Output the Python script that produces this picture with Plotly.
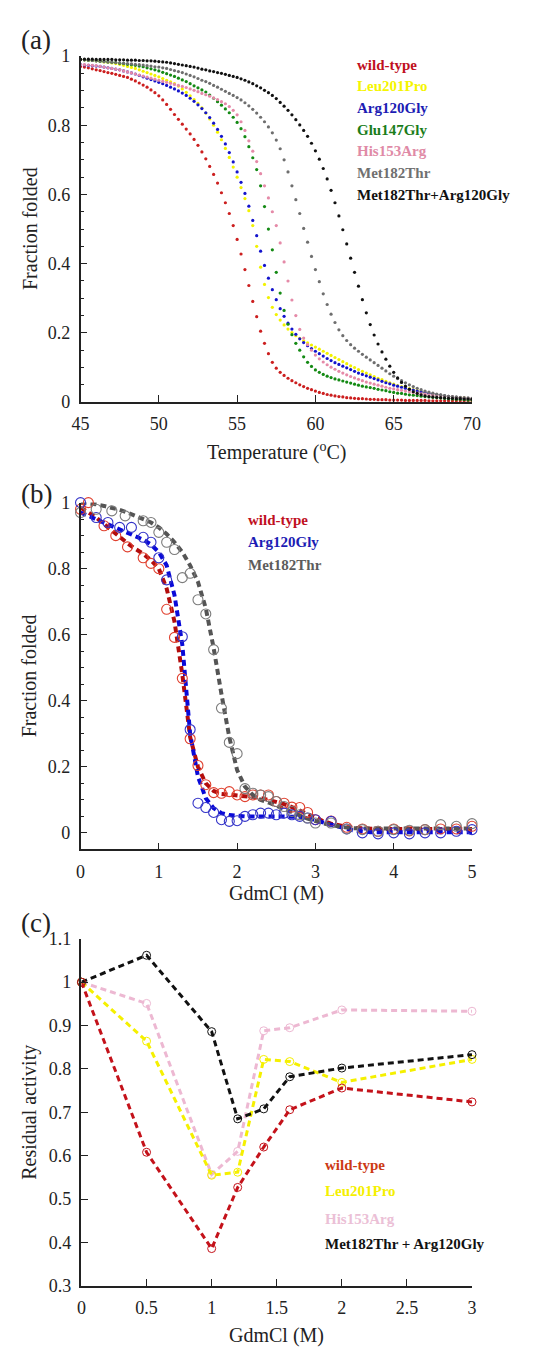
import numpy as np
import plotly.graph_objects as go

W, H = 539, 1355
FONT = "Liberation Serif, Times New Roman, Times, DejaVu Serif, serif"

# ---------------- Panel (a): thermal unfolding, 45..70 C every 0.25 C ----------------
temp = np.arange(45, 70.001, 0.25)

wild_type_a = [
    0.970, 0.968, 0.966, 0.963, 0.960, 0.958, 0.955, 0.952, 0.950, 0.947, 0.944, 0.941,
    0.938, 0.933, 0.928, 0.922, 0.916, 0.910, 0.902, 0.894, 0.885, 0.873, 0.860, 0.846,
    0.831, 0.817, 0.803, 0.789, 0.775, 0.759, 0.742, 0.723, 0.703, 0.681, 0.658, 0.633,
    0.605, 0.576, 0.545, 0.510, 0.470, 0.428, 0.383, 0.337, 0.291, 0.247, 0.205, 0.170,
    0.140, 0.115, 0.098, 0.086, 0.077, 0.069, 0.062, 0.056, 0.050, 0.045, 0.040, 0.036,
    0.032, 0.028, 0.025, 0.022, 0.020, 0.018, 0.016, 0.015, 0.013, 0.012, 0.011, 0.010,
    0.010, 0.009, 0.008, 0.008, 0.007, 0.007, 0.007, 0.006, 0.006, 0.006, 0.006, 0.005,
    0.005, 0.005, 0.005, 0.005, 0.005, 0.004, 0.004, 0.004, 0.004, 0.004, 0.004, 0.004,
    0.004, 0.004, 0.004, 0.004, 0.004]

leu201pro_a = [
    0.990, 0.989, 0.988, 0.987, 0.986, 0.985, 0.983, 0.982, 0.980, 0.978, 0.976, 0.973,
    0.970, 0.967, 0.964, 0.960, 0.956, 0.952, 0.948, 0.944, 0.940, 0.935, 0.930, 0.925,
    0.920, 0.913, 0.905, 0.895, 0.885, 0.874, 0.863, 0.850, 0.835, 0.818, 0.800, 0.780,
    0.758, 0.733, 0.707, 0.679, 0.650, 0.620, 0.588, 0.553, 0.510, 0.450, 0.390, 0.340,
    0.302, 0.274, 0.253, 0.237, 0.223, 0.211, 0.201, 0.192, 0.184, 0.177, 0.171, 0.165,
    0.159, 0.153, 0.147, 0.141, 0.135, 0.129, 0.123, 0.117, 0.111, 0.105, 0.100, 0.094,
    0.089, 0.084, 0.079, 0.074, 0.069, 0.065, 0.060, 0.056, 0.052, 0.048, 0.045, 0.042,
    0.039, 0.036, 0.033, 0.030, 0.028, 0.026, 0.024, 0.022, 0.020, 0.018, 0.017, 0.015,
    0.014, 0.013, 0.012, 0.010, 0.009]

arg120gly_a = [
    0.975, 0.974, 0.973, 0.972, 0.971, 0.970, 0.968, 0.966, 0.964, 0.962, 0.960, 0.957,
    0.954, 0.951, 0.948, 0.944, 0.940, 0.936, 0.932, 0.928, 0.924, 0.920, 0.915, 0.910,
    0.905, 0.899, 0.893, 0.886, 0.878, 0.869, 0.859, 0.848, 0.836, 0.822, 0.806, 0.788,
    0.768, 0.746, 0.721, 0.694, 0.665, 0.635, 0.603, 0.566, 0.525, 0.481, 0.436, 0.395,
    0.358, 0.325, 0.296, 0.270, 0.248, 0.228, 0.211, 0.196, 0.183, 0.172, 0.163, 0.155,
    0.147, 0.140, 0.133, 0.126, 0.120, 0.114, 0.109, 0.104, 0.099, 0.094, 0.089, 0.084,
    0.080, 0.076, 0.072, 0.068, 0.064, 0.060, 0.056, 0.053, 0.049, 0.046, 0.043, 0.040,
    0.037, 0.035, 0.032, 0.030, 0.028, 0.026, 0.024, 0.022, 0.020, 0.018, 0.017, 0.015,
    0.014, 0.012, 0.011, 0.010, 0.009]

glu147gly_a = [
    0.990, 0.989, 0.988, 0.987, 0.986, 0.985, 0.984, 0.983, 0.982, 0.981, 0.979, 0.978,
    0.976, 0.975, 0.973, 0.971, 0.969, 0.966, 0.963, 0.960, 0.957, 0.953, 0.949, 0.945,
    0.941, 0.936, 0.931, 0.926, 0.920, 0.914, 0.908, 0.902, 0.896, 0.887, 0.878, 0.868,
    0.858, 0.847, 0.836, 0.823, 0.808, 0.790, 0.767, 0.738, 0.706, 0.672, 0.625, 0.565,
    0.500, 0.440, 0.375, 0.315, 0.265, 0.225, 0.195, 0.170, 0.150, 0.131, 0.115, 0.103,
    0.093, 0.086, 0.080, 0.075, 0.071, 0.067, 0.064, 0.061, 0.058, 0.055, 0.052, 0.049,
    0.046, 0.044, 0.042, 0.040, 0.037, 0.035, 0.033, 0.030, 0.028, 0.026, 0.025, 0.023,
    0.021, 0.020, 0.019, 0.017, 0.016, 0.015, 0.014, 0.013, 0.012, 0.011, 0.010, 0.009,
    0.008, 0.008, 0.007, 0.006, 0.006]

his153arg_a = [
    0.975, 0.975, 0.974, 0.973, 0.972, 0.970, 0.968, 0.966, 0.964, 0.962, 0.960, 0.957,
    0.954, 0.951, 0.948, 0.945, 0.942, 0.939, 0.936, 0.933, 0.930, 0.927, 0.924, 0.921,
    0.918, 0.915, 0.912, 0.909, 0.905, 0.901, 0.897, 0.892, 0.888, 0.884, 0.879, 0.874,
    0.868, 0.862, 0.854, 0.843, 0.830, 0.810, 0.785, 0.755, 0.725, 0.695, 0.660, 0.625,
    0.590, 0.550, 0.510, 0.460, 0.405, 0.350, 0.295, 0.250, 0.210, 0.185, 0.166, 0.150,
    0.136, 0.125, 0.116, 0.108, 0.101, 0.095, 0.089, 0.084, 0.079, 0.074, 0.070, 0.066,
    0.062, 0.058, 0.055, 0.052, 0.049, 0.046, 0.043, 0.040, 0.038, 0.036, 0.034, 0.032,
    0.030, 0.028, 0.026, 0.024, 0.023, 0.021, 0.020, 0.019, 0.018, 0.017, 0.016, 0.015,
    0.014, 0.013, 0.012, 0.011, 0.010]

met182thr_a = [
    0.990, 0.989, 0.988, 0.987, 0.986, 0.985, 0.984, 0.983, 0.982, 0.981, 0.980, 0.979,
    0.978, 0.977, 0.976, 0.975, 0.974, 0.972, 0.971, 0.969, 0.968, 0.966, 0.964, 0.961,
    0.958, 0.955, 0.952, 0.948, 0.944, 0.940, 0.935, 0.930, 0.926, 0.921, 0.915, 0.910,
    0.904, 0.898, 0.892, 0.886, 0.880, 0.873, 0.865, 0.856, 0.846, 0.835, 0.823, 0.810,
    0.795, 0.778, 0.757, 0.732, 0.700, 0.665, 0.625, 0.585, 0.545, 0.502, 0.462, 0.421,
    0.383, 0.348, 0.313, 0.282, 0.254, 0.230, 0.209, 0.192, 0.178, 0.166, 0.156, 0.147,
    0.138, 0.130, 0.122, 0.114, 0.106, 0.098, 0.090, 0.082, 0.075, 0.068, 0.062, 0.056,
    0.050, 0.045, 0.040, 0.036, 0.032, 0.029, 0.026, 0.023, 0.021, 0.019, 0.017, 0.016,
    0.015, 0.014, 0.013, 0.012, 0.011]

double_mut_a = [
    0.990, 0.991, 0.991, 0.991, 0.990, 0.990, 0.990, 0.990, 0.990, 0.989, 0.989, 0.989,
    0.988, 0.988, 0.988, 0.987, 0.987, 0.986, 0.986, 0.985, 0.984, 0.983, 0.982, 0.980,
    0.978, 0.976, 0.974, 0.972, 0.970, 0.968, 0.965, 0.962, 0.960, 0.957, 0.955, 0.952,
    0.950, 0.947, 0.944, 0.941, 0.938, 0.934, 0.930, 0.925, 0.920, 0.914, 0.908, 0.901,
    0.894, 0.886, 0.877, 0.866, 0.855, 0.843, 0.830, 0.816, 0.801, 0.785, 0.768, 0.748,
    0.726, 0.702, 0.675, 0.645, 0.612, 0.576, 0.538, 0.498, 0.457, 0.416, 0.375, 0.335,
    0.296, 0.258, 0.224, 0.194, 0.168, 0.145, 0.124, 0.104, 0.086, 0.070, 0.057, 0.046,
    0.037, 0.030, 0.025, 0.021, 0.018, 0.016, 0.015, 0.014, 0.013, 0.012, 0.011, 0.011,
    0.010, 0.010, 0.009, 0.009, 0.008]

names_a = ["wild-type", "Leu201Pro", "Arg120Gly", "Glu147Gly", "His153Arg",
           "Met182Thr", "Met182Thr+Arg120Gly"]
series_a = [wild_type_a, leu201pro_a, arg120gly_a, glu147gly_a, his153arg_a,
            met182thr_a, double_mut_a]
dot_colors_a = ["#cc1f1f", "#f2f200", "#1414cc", "#148a14", "#e58aa8", "#6e6e6e", "#111111"]
text_colors_a = ["#c0101e", "#f5f500", "#1c1cb4", "#1a7d1a", "#e08aa6", "#707070", "#111111"]

# ---------------- Panel (b): GdmCl denaturation ----------------
wt_b_x = [0, 0.1, 0.3, 0.45, 0.6, 0.8, 0.9, 1.0,
          1.1, 1.2, 1.3, 1.4, 1.5, 1.6, 1.7, 1.8, 1.9, 2.0, 2.1, 2.2, 2.3, 2.4, 2.5, 2.6,
          2.7, 2.8, 2.9, 3.0, 3.2, 3.4, 3.6, 3.8, 4.0, 4.2, 4.4, 4.6, 4.8, 5.0]
wt_b_y = [0.98, 1.0, 0.93, 0.90, 0.866, 0.833, 0.816, 0.80,
          0.677, 0.592, 0.468, 0.285, 0.204, 0.146, 0.122, 0.12, 0.125, 0.115, 0.11, 0.115,
          0.115, 0.115, 0.095, 0.09, 0.078, 0.077, 0.062, 0.04,
          0.036, 0.017, 0.012, 0.005, 0.012, 0.006, 0.01, 0.012, 0.012, 0.02]

arg_b_x = [0, 0.2, 0.35, 0.5, 0.65, 0.8, 0.9, 1.0, 1.1, 1.3,
           1.4, 1.5, 1.6, 1.7, 1.8, 1.9, 2.0, 2.1, 2.2, 2.3, 2.4, 2.5, 2.6, 2.7, 2.8, 2.9, 3.0,
           3.2, 3.4, 3.6, 3.8, 4.0, 4.2, 4.4, 4.6, 4.8, 5.0]
arg_b_y = [1.0, 0.955, 0.94, 0.925, 0.925, 0.895, 0.88, 0.833, 0.766, 0.594,
           0.313, 0.09, 0.077, 0.062, 0.04, 0.035, 0.037, 0.05, 0.055, 0.06, 0.06, 0.055,
           0.06, 0.055, 0.05, 0.045, 0.04,
           0.035, 0.012, 0.0, -0.003, 0.0, -0.003, 0.0, 0.0, 0.005, 0.01]

met_b_x = [0, 0.2, 0.4, 0.57, 0.8, 0.9,
           1.0, 1.1, 1.2, 1.3, 1.4, 1.5, 1.6, 1.7, 1.8, 1.9, 2.0, 2.1, 2.2, 2.3, 2.4, 2.5,
           2.6, 2.7, 2.8, 2.9, 3.0,
           3.2, 3.4, 3.6, 3.8, 4.0, 4.2, 4.4, 4.6, 4.8, 5.0]
met_b_y = [0.97, 0.98, 0.975, 0.96, 0.945, 0.94,
           0.91, 0.88, 0.858, 0.773, 0.786, 0.706, 0.663, 0.555, 0.378, 0.274, 0.24, 0.134,
           0.12, 0.115, 0.11, 0.095, 0.08, 0.065, 0.055, 0.045, 0.03,
           0.03, 0.012, 0.01, 0.005, 0.01, 0.008, 0.01, 0.025, 0.02, 0.028]

fit_x = np.round(np.arange(0, 5.001, 0.1), 2)
wt_fit = [0.985, 0.97, 0.955, 0.935, 0.915, 0.895, 0.877, 0.86, 0.845, 0.826,
          0.80, 0.74, 0.64, 0.48, 0.29, 0.20, 0.15, 0.127, 0.118, 0.116,
          0.114, 0.112, 0.11, 0.106, 0.10, 0.094, 0.087, 0.078, 0.067, 0.056,
          0.045, 0.036, 0.028, 0.022, 0.018, 0.015, 0.013, 0.012, 0.012, 0.012,
          0.012, 0.012, 0.012, 0.012, 0.012, 0.012, 0.012, 0.012, 0.012, 0.012, 0.012]
arg_fit = [0.97, 0.96, 0.95, 0.94, 0.93, 0.92, 0.91, 0.90, 0.888, 0.873,
           0.85, 0.81, 0.72, 0.57, 0.30, 0.17, 0.105, 0.075, 0.06, 0.054,
           0.051, 0.05, 0.05, 0.05, 0.05, 0.05, 0.05, 0.05, 0.049, 0.045,
           0.038, 0.03, 0.024, 0.017, 0.012, 0.007, 0.004, 0.002, 0.002, 0.002,
           0.002, 0.002, 0.002, 0.002, 0.002, 0.002, 0.002, 0.002, 0.002, 0.002, 0.002]
met_fit = [1.0, 0.998, 0.995, 0.99, 0.985, 0.978, 0.97, 0.96, 0.95, 0.94,
           0.925, 0.905, 0.88, 0.85, 0.81, 0.76, 0.68, 0.56, 0.42, 0.29,
           0.19, 0.14, 0.115, 0.10, 0.092, 0.083, 0.073, 0.063, 0.053, 0.043,
           0.035, 0.029, 0.024, 0.019, 0.016, 0.014, 0.013, 0.013, 0.013, 0.013,
           0.013, 0.013, 0.013, 0.013, 0.013, 0.013, 0.013, 0.013, 0.013, 0.013, 0.013]

# ---------------- Panel (c): residual activity ----------------
gdm_c = [0, 0.5, 1, 1.2, 1.4, 1.6, 2, 3]
wt_c = [1.0, 0.608, 0.386, 0.527, 0.62, 0.706, 0.756, 0.724]
leu_c = [1.0, 0.864, 0.555, 0.562, 0.822, 0.817, 0.769, 0.822]
his_c = [1.0, 0.951, 0.557, 0.61, 0.888, 0.895, 0.936, 0.933]
dbl_c = [1.0, 1.062, 0.886, 0.685, 0.708, 0.782, 0.802, 0.833]


def px(x):
    return x / W


def py(y):
    return 1 - y / H


fig = go.Figure()

# panel a
for name, ys, col in zip(names_a, series_a, dot_colors_a):
    fig.add_trace(go.Scatter(x=temp, y=ys, mode="markers", name=name,
                             marker=dict(size=3.2, color=col, line=dict(width=0)),
                             xaxis="x", yaxis="y", showlegend=False))

# panel b: fits then circles
fits = [(wt_fit, "#b30d0d"), (arg_fit, "#0a0ad8"), (met_fit, "#555555")]
for ys, col in fits:
    fig.add_trace(go.Scatter(x=fit_x, y=ys, mode="lines",
                             line=dict(color=col, width=4, dash="6px,4px"),
                             xaxis="x2", yaxis="y2", showlegend=False))
circ = [(wt_b_x, wt_b_y, "#e0402e"), (arg_b_x, arg_b_y, "#3434c8"), (met_b_x, met_b_y, "#7c7c7c")]
for xs, ys, col in circ:
    fig.add_trace(go.Scatter(x=xs, y=ys, mode="markers",
                             marker=dict(symbol="circle-open", size=10, color=col,
                                         line=dict(width=1.1, color=col)),
                             xaxis="x2", yaxis="y2", showlegend=False, cliponaxis=False))

# panel c
c_series = [(his_c, "#edb8d2"), (leu_c, "#f5f000"), (dbl_c, "#111111"), (wt_c, "#c4121a")]
for ys, col in c_series:
    fig.add_trace(go.Scatter(x=gdm_c, y=ys, mode="lines+markers",
                             line=dict(color=col, width=3, dash="6px,4px"),
                             marker=dict(symbol="circle-open", size=8, color=col,
                                         line=dict(width=1, color=col)),
                             xaxis="x3", yaxis="y3", showlegend=False, cliponaxis=False))

tickfont = dict(family=FONT, size=18, color="#222222")
common = dict(showline=True, linecolor="#222222", linewidth=1.5, showgrid=False,
              zeroline=False, ticks="inside", tickcolor="#222222", tickwidth=1.3,
              ticklen=7, tickfont=tickfont, ticklabelstandoff=5)

xdom = [px(74), px(479)]
fig.update_layout(
    width=W, height=H, autosize=False,
    margin=dict(l=0, r=0, t=0, b=0),
    paper_bgcolor="white", plot_bgcolor="white",
    font=dict(family=FONT, size=18, color="#222222"),
    xaxis=dict(domain=xdom, anchor="y", range=[45, 70], tick0=45, dtick=5, **common),
    yaxis=dict(domain=[py(398), py(46.7)], anchor="x", range=[0, 1], tick0=0, dtick=0.2,
               minor=dict(dtick=0.05, ticks="inside", ticklen=4, tickcolor="#222222"),
               **common),
    xaxis2=dict(domain=xdom, anchor="y2", range=[0, 5], tick0=0, dtick=1, **common),
    yaxis2=dict(domain=[py(852), py(500)], anchor="x2", range=[-0.05, 1.0], tick0=0,
                dtick=0.2,
                minor=dict(tick0=0, dtick=0.05, ticks="inside", ticklen=4, tickcolor="#222222"),
                **common),
    xaxis3=dict(domain=[px(75), px(479)], anchor="y3", range=[0, 3], tick0=0, dtick=0.5,
                **common),
    yaxis3=dict(domain=[py(1295), py(942.7)], anchor="x3", range=[0.3, 1.1], tick0=0.3,
                dtick=0.1, **common),
)

ann = []


def text(x, y, s, size=20, color="#222222", xanchor="center", angle=0):
    ann.append(dict(x=px(x), y=py(y), xref="paper", yref="paper", text=s, showarrow=False,
                    xanchor=xanchor, yanchor="middle", textangle=angle,
                    font=dict(family=FONT, size=size, color=color)))


# panel labels
text(28, 30, "(a)", size=27)
text(28, 491, "(b)", size=27)
text(28, 927, "(c)", size=27)

# axis titles
text(276.5, 448, "Temperature (<sup>o</sup>C)", size=20)
text(21, 222, "Fraction folded", size=20, angle=-90)
text(276.5, 897, "GdmCl (M)", size=20)
text(21, 676, "Fraction folded", size=20, angle=-90)
text(276.5, 1345, "GdmCl (M)", size=20)
text(21, 1119, "Residual activity", size=20, angle=-90)

# legend a
leg_a_y = [56, 77, 99, 122, 143, 165, 188]
for name, col, yy in zip(names_a, text_colors_a, leg_a_y):
    text(358, yy, "<b>%s</b>" % name, size=15, color=col, xanchor="left")

# legend b
for name, col, yy in zip(["wild-type", "Arg120Gly", "Met182Thr"],
                         ["#c0101e", "#1c1cb4", "#5c5c5c"], [518, 540, 563]):
    text(245, yy, "<b>%s</b>" % name, size=15, color=col, xanchor="left")

# legend c
for name, col, yy in zip(["wild-type", "Leu201Pro", "His153Arg", "Met182Thr + Arg120Gly"],
                         ["#cc3a14", "#f5f000", "#ebc0d6", "#111111"],
                         [1172, 1199, 1227, 1252]):
    text(325, yy, "<b>%s</b>" % name, size=15, color=col, xanchor="left")

fig.update_layout(annotations=ann)

fig.write_html("out.html", config={"displayModeBar": False})
